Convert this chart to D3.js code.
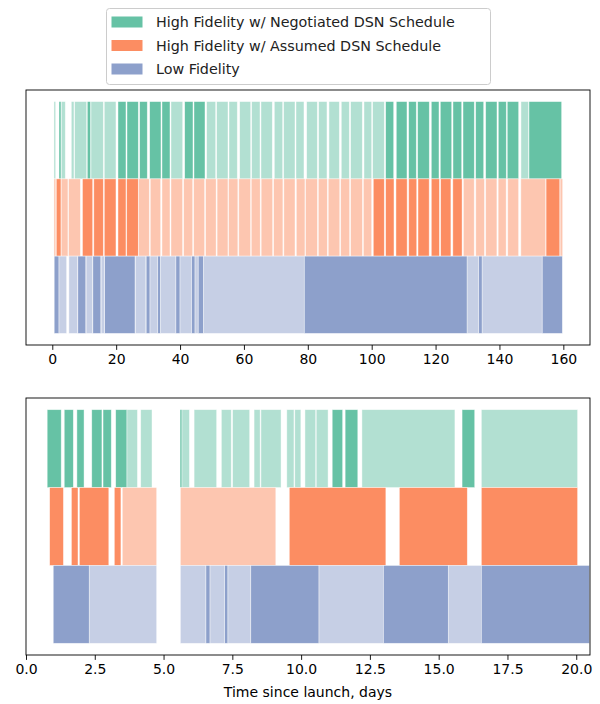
<!DOCTYPE html>
<html><head><meta charset="utf-8">
<script src="https://cdn.jsdelivr.net/npm/d3@7"></script>
<style>body{margin:0;background:#fff}svg{display:block}text{font-family:"DejaVu Sans",sans-serif}</style>
</head><body><svg id="c" width="600" height="704"></svg>
<script>
// ---- data: segments [startDay, endDay, isDark] ----
const seriesNames = ["High Fidelity w/ Negotiated DSN Schedule","High Fidelity w/ Assumed DSN Schedule","Low Fidelity"];
const seriesColors = ["#66c2a5","#fc8d62","#8da0cb"];

const topNegotiated = [[0.53,1.06,0],[2.1,2.72,1],[2.82,4.07,0],[5.95,6.79,0],[7.01,10.77,0],[10.96,12.02,1],[12.12,15.97,0],[16.28,19.94,0],[20.57,23.07,1],[23.39,26.93,1],[27.36,29.74,1],[30.49,34.03,1],[34.34,36.85,1],[37.16,40.83,0],[41.45,44.05,1],[44.36,47.81,1],[48.34,51.16,0],[51.47,55.01,0],[55.33,57.92,0],[58.67,62.12,0],[62.43,65.03,0],[65.34,68.88,0],[69.51,72.13,0],[72.45,75.99,0],[76.3,78.8,0],[79.65,82.97,0],[83.41,86.0,0],[86.63,89.86,0],[90.48,92.99,0],[93.42,97.06,0],[97.59,100.0,0],[100.31,103.94,0],[104.38,106.89,1],[107.7,111.05,1],[111.58,113.96,1],[114.4,118.03,1],[118.66,121.07,1],[121.48,125.05,1],[125.45,128.18,1],[128.59,132.12,1],[132.56,135.07,1],[135.69,139.23,1],[139.64,142.14,1],[142.45,146.02,1],[146.74,149.15,0],[149.25,159.48,1]];
const topAssumed = [[0.53,1.1,0],[1.25,2.72,1],[2.8,4.9,0],[5.1,8.8,0],[9.45,12.65,1],[13.0,15.97,1],[16.28,19.94,1],[20.57,23.07,1],[23.3,26.93,1],[27.05,30.37,0],[30.68,33.94,0],[34.34,36.85,0],[37.16,40.8,0],[41.14,43.96,0],[44.27,47.7,0],[48.0,51.3,0],[51.6,55.0,0],[55.2,58.1,0],[58.4,62.1,0],[62.3,65.1,0],[65.4,69.0,0],[69.3,72.2,0],[72.5,76.0,0],[76.4,79.1,0],[79.3,83.0,0],[83.3,86.1,0],[86.4,90.0,0],[90.3,93.1,0],[93.4,97.1,0],[97.4,100.0,0],[100.5,103.94,1],[104.38,106.98,1],[107.6,111.1,1],[111.6,114.1,1],[114.5,118.0,1],[118.66,121.2,1],[121.6,124.8,1],[125.4,128.3,1],[128.7,132.1,0],[132.6,135.3,0],[135.7,139.2,0],[139.6,142.1,0],[142.6,146.0,0],[146.7,154.5,0],[154.6,158.9,1],[159.0,159.8,0]];
const topLow = [[0.6,2.1,1],[2.1,4.5,0],[5.2,7.9,0],[8.0,10.5,1],[10.6,12.6,0],[12.7,15.2,1],[15.3,16.3,0],[16.4,25.9,1],[26.0,29.3,0],[29.4,30.6,1],[30.6,33.0,0],[33.0,33.9,1],[33.9,38.7,0],[38.7,40.0,1],[40.0,43.6,0],[43.6,44.7,1],[44.7,45.7,0],[45.7,47.3,1],[47.3,78.9,0],[78.9,129.9,1],[129.9,133.5,0],[133.5,134.6,1],[134.6,153.4,0],[153.4,159.7,1]];

const botNegotiated = [[0.77,1.28,1],[1.39,1.72,1],[1.85,2.11,1],[2.39,2.76,1],[2.80,3.10,1],[3.26,3.67,1],[3.67,4.05,0],[4.17,4.58,0],[5.60,5.67,1],[5.67,5.94,0],[6.11,6.93,0],[7.10,7.46,0],[7.51,8.13,0],[8.29,8.51,0],[8.54,9.27,0],[9.48,9.74,0],[9.77,9.99,0],[10.14,10.53,0],[10.55,10.98,0],[11.13,11.51,1],[11.60,12.06,1],[12.21,15.59,0],[15.85,16.31,1],[16.55,20.05,0]];
const botAssumed = [[0.86,1.36,1],[1.65,1.89,1],[1.94,3.01,1],[3.21,3.45,1],[3.50,4.75,0],[5.61,9.08,0],[9.57,13.08,1],[13.57,16.04,1],[16.55,20.05,1]];
const botLow = [[0.99,2.30,1],[2.30,4.75,0],[5.61,6.54,0],[6.54,6.69,1],[6.69,7.22,0],[7.22,7.34,1],[7.34,8.17,0],[8.17,10.65,1],[10.65,12.99,0],[12.99,15.35,1],[15.35,16.55,0],[16.55,20.48,1]];

const topTicks = [0,20,40,60,80,100,120,140,160];
const botTicks = [0,2.5,5,7.5,10,12.5,15,17.5,20];
const xLabel = "Time since launch, days";

// ---- drawing ----
const svg = d3.select("#c");
const FS = "14px";

function panel(y0, y1, xDomain, rows, ticks, fmt) {
  const x = d3.scaleLinear().domain(xDomain).range([26, 590]);
  const y = d3.scaleLinear().domain([-0.15, 3.15]).range([y1, y0]);
  const g = svg.append("g");
  rows.forEach((segs, i) => {
    const lvl = 2 - i;
    g.append("g").selectAll("rect").data(segs).join("rect")
      .attr("x", d => x(d[0]))
      .attr("width", d => Math.max(0.5, x(d[1]) - x(d[0])))
      .attr("y", y(lvl + 1))
      .attr("height", y(lvl) - y(lvl + 1))
      .attr("fill", seriesColors[i])
      .attr("fill-opacity", d => d[2] ? 1 : 0.5)
      .attr("stroke", "#fff").attr("stroke-width", 0.7).attr("stroke-opacity", 0.6);
  });
  g.append("rect").attr("x", 26).attr("y", y0).attr("width", 564).attr("height", y1 - y0)
    .attr("fill", "none").attr("stroke", "#000").attr("stroke-width", 0.9);
  const ax = g.append("g").attr("transform", `translate(0,${y1})`)
    .call(d3.axisBottom(x).tickValues(ticks).tickFormat(fmt).tickSize(4.9).tickPadding(4.4));
  ax.select(".domain").remove();
  ax.selectAll("line").attr("stroke", "#000").attr("stroke-width", 0.9);
  ax.selectAll("text").attr("font-size", FS).attr("fill", "#000").style("font-family", "DejaVu Sans");
  return x;
}

panel(90, 345, [-8.23, 168.35], [topNegotiated, topAssumed, topLow], topTicks, d3.format("d"));
panel(398, 655, [0, 20.5], [botNegotiated, botAssumed, botLow], botTicks, d3.format(".1f"));

svg.append("text").attr("x", 308).attr("y", 697).attr("text-anchor", "middle")
  .attr("font-size", FS).attr("fill", "#000").text(xLabel);

// legend
const lg = svg.append("g");
lg.append("rect").attr("x", 106.5).attr("y", 8.5).attr("width", 384).attr("height", 76).attr("rx", 3)
  .attr("fill", "#fff").attr("fill-opacity", 0.8).attr("stroke", "#cccccc").attr("stroke-width", 1);
seriesNames.forEach((n, i) => {
  const cy = 22 + i * 23.5;
  lg.append("rect").attr("x", 111.5).attr("y", cy - 5.5).attr("width", 31).attr("height", 11)
    .attr("fill", seriesColors[i]);
  lg.append("text").attr("x", 156).attr("y", cy).attr("dy", "0.36em")
    .attr("font-size", "14.3px").attr("fill", "#222").text(n);
});
</script></body></html>
